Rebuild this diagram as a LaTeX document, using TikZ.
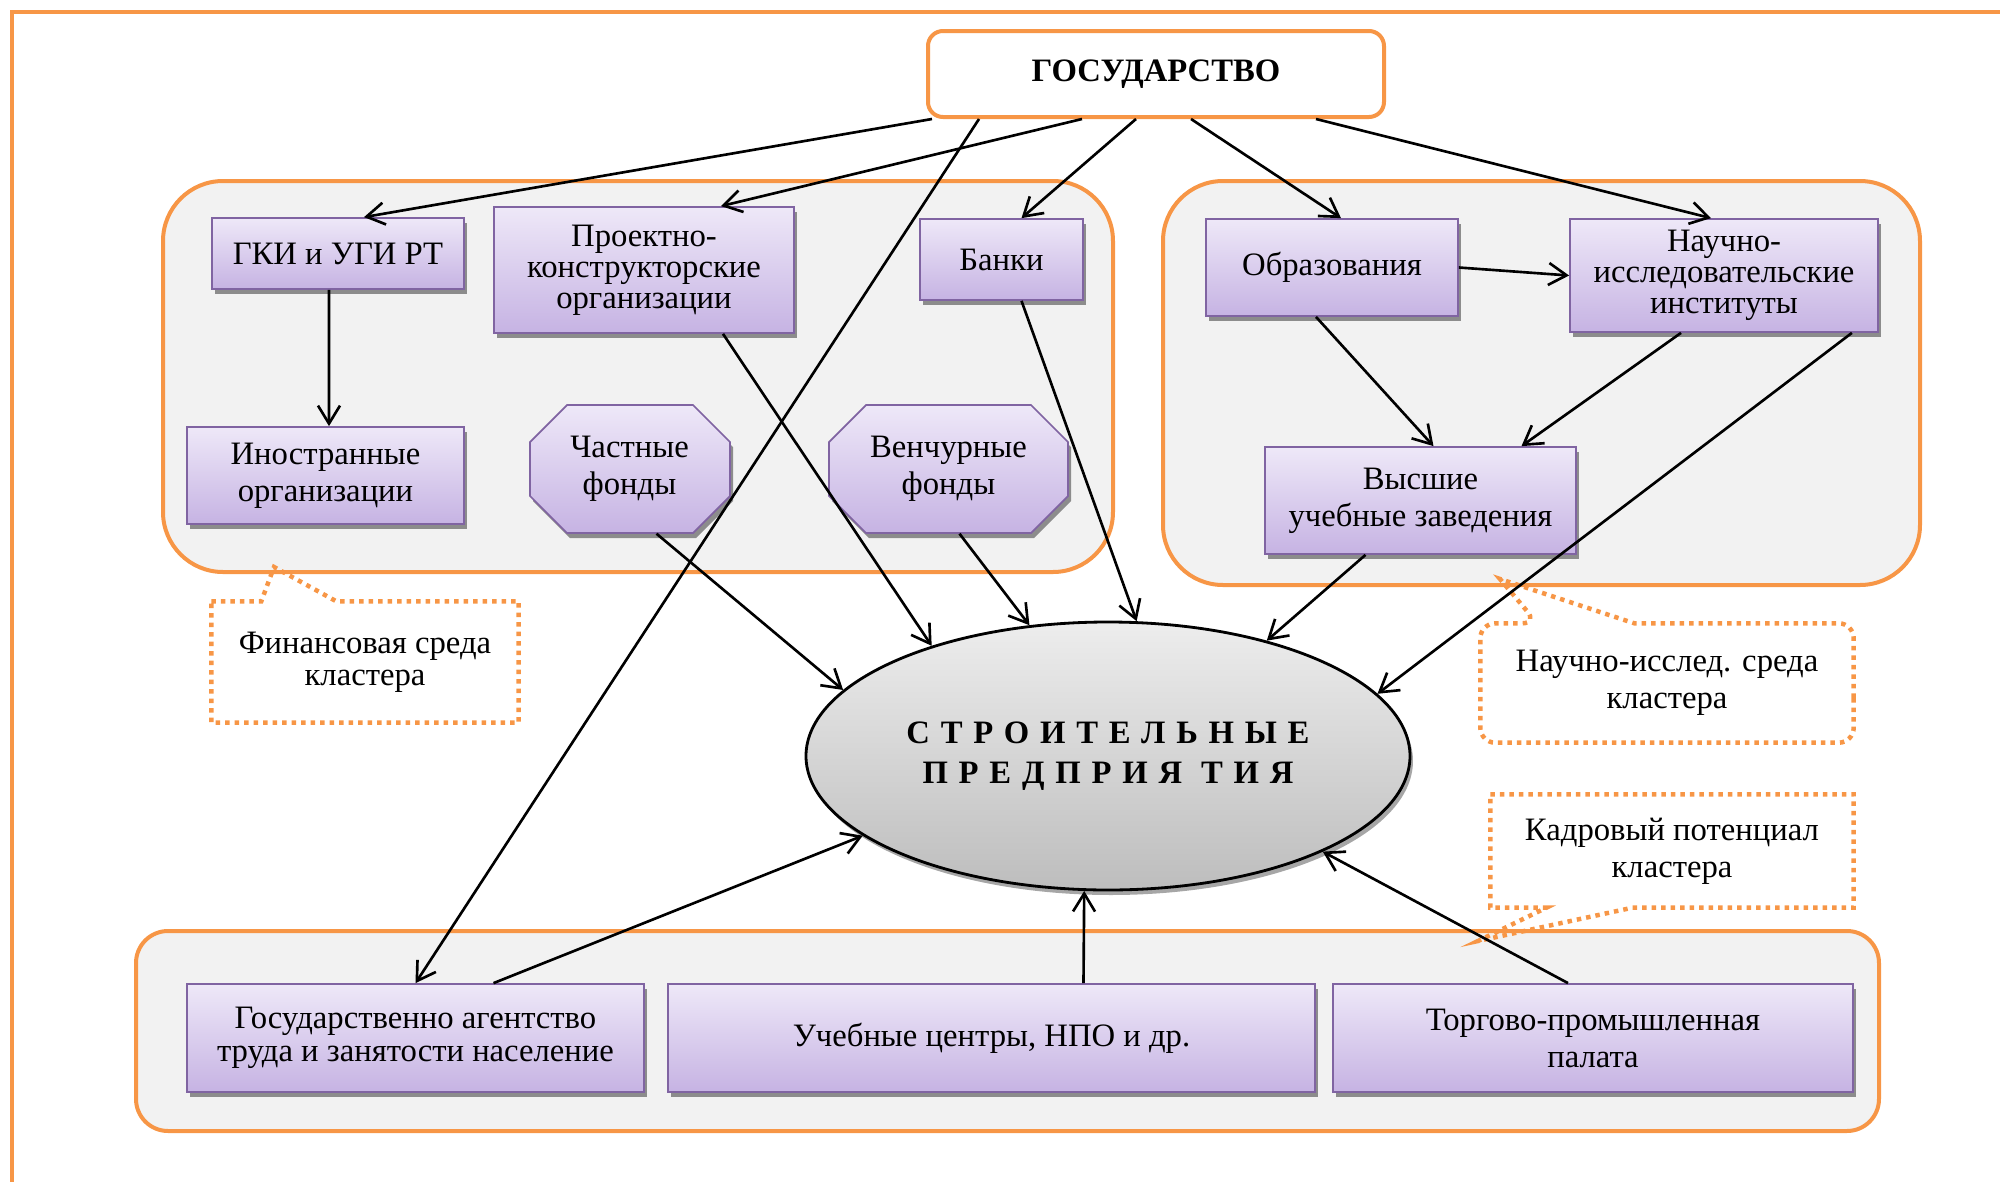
\documentclass[tikz,border=0pt]{standalone}
\usepackage{fontspec}
\setmainfont{Liberation Serif}
\usetikzlibrary{shapes.geometric,shadows,calc,arrows.meta}

\definecolor{clorange}{HTML}{F79646}
\definecolor{clgroup}{HTML}{F2F2F2}
\definecolor{cltop}{HTML}{EEE8F8}
\definecolor{clbot}{HTML}{C6B3E3}
\definecolor{clline}{HTML}{8064A2}
\definecolor{elltop}{HTML}{EDEDED}
\definecolor{ellbot}{HTML}{BDBDBD}

\tikzset{
	txt/.style={font=\fontsize{9.3}{10.5}\selectfont, align=center},
	group/.style={draw=clorange, line width=0.4mm, fill=clgroup, rounded corners=6mm},
	statebox/.style={txt, draw=clorange, line width=0.4mm, fill=white, rounded corners=1.5mm,
		font=\fontsize{9.3}{10.5}\selectfont\bfseries},
	orgfill/.style={draw=clline, line width=0.5pt, top color=cltop, bottom color=clbot,
		drop shadow={shadow xshift=0.3mm, shadow yshift=-0.5mm, fill=black!45, opacity=1}},
	orgbox/.style={txt, orgfill, inner sep=1pt},
	entbox/.style={ellipse, draw=black, line width=0.8pt, top color=elltop, bottom color=ellbot, inner sep=0pt,
		align=center, font=\fontsize{9.3}{11.4}\selectfont\bfseries\addfontfeature{LetterSpace=33},
		drop shadow={shadow xshift=0.3mm, shadow yshift=-0.5mm, fill=black!35, opacity=1}},
	callout/.style={draw=clorange, line width=0.45mm, dash pattern=on 0.45mm off 0.5mm},
	link/.style={->, line width=0.75pt},
	>={Straight Barb[length=1.8mm, width=2.2mm]},
}

\begin{document}
\begin{tikzpicture}[x=0.1mm, y=-0.1mm]
	\useasboundingbox (0,0) rectangle (2000,1182);

	% frame
	\draw[draw=clorange, line width=0.4mm] (12,1182) -- (12,12) -- (2000,12);

	% environments
	\draw[group] (163,181) rectangle (1113,572);
	\draw[group] (1163,181) rectangle (1920,585);
	\draw[group, rounded corners=3.2mm] (136,931) rectangle (1879,1131);

	\node[statebox, minimum width=45.6mm, minimum height=8.6mm] (gos) at (1156,74) {ГОСУДАРСТВО};

	% financial
	\node[orgbox, minimum width=25.2mm, minimum height=7.1mm] (gki) at (338,253.5) {ГКИ и УГИ РТ};
	\node[orgbox, minimum width=27.7mm, minimum height=9.7mm] (inostr) at (325.5,475.5) {Иностранные\\организации};
	\node[orgbox, minimum width=30mm, minimum height=12.6mm, font=\fontsize{9.3}{8.8}\selectfont] (proekt) at (644,270) {Проектно-\\конструкторские\\организации};
	\node[orgbox, minimum width=16.3mm, minimum height=8.1mm] (banki) at (1001.5,259.5) {Банки};

	% funds
	\path[orgfill] (567,405) -- ++(126,0) -- ++(37,37) -- ++(0,54) -- ++(-37,37) -- ++(-126,0) -- ++(-37,-37) -- ++(0,-54) -- cycle;
	\path[orgfill] (866,405) -- ++(165,0) -- ++(37,37) -- ++(0,54) -- ++(-37,37) -- ++(-165,0) -- ++(-37,-37) -- ++(0,-54) -- cycle;
	\node[txt, minimum width=20.1mm, minimum height=12.8mm] (chast) at (629.5,469) {Частные\\фонды};
	\node[txt, minimum width=23.9mm, minimum height=12.8mm] (vench) at (948.5,469) {Венчурные\\фонды};

	% research
	\node[orgbox, minimum width=25.2mm, minimum height=9.7mm] (obraz) at (1332,267.5) {Образования};
	\node[orgbox, minimum width=30.8mm, minimum height=11.3mm, font=\fontsize{9.3}{8.9}\selectfont] (nii) at (1724,275.5) {Научно-\\исследовательские\\институты};
	\node[orgbox, minimum width=31.1mm, minimum height=10.7mm] (vuz) at (1420.5,500.5) {Высшие\\учебные заведения};

	\node[entbox, minimum width=60.4mm, minimum height=26.8mm] (ent) at (1108,756) {СТРОИТЕЛЬНЫЕ\\ПРЕДПРИЯ ТИЯ};

	% staff
	\node[orgbox, minimum width=45.7mm, minimum height=10.8mm, font=\fontsize{9.3}{9.4}\selectfont] (agent) at (415.5,1038) {Государственно агентство\\труда и занятости население};
	\node[orgbox, minimum width=64.7mm, minimum height=10.8mm] (ucheb) at (991.5,1038) {Учебные центры, НПО и др.};
	\node[orgbox, minimum width=52mm, minimum height=10.8mm] (torg) at (1593,1038) {Торгово-промышленная\\палата};

	% callouts
	\node[txt, minimum width=30.6mm, minimum height=12mm, font=\fontsize{9.3}{9.1}\selectfont] (fin) at (365,662) {Финансовая среда\\кластера};
	\node[txt, minimum width=37.2mm, minimum height=11.8mm] (nauch) at (1667,683) {Научно-исслед. среда\\кластера};
	\node[txt, minimum width=36.2mm, minimum height=11.2mm] (kadr) at (1672,851) {Кадровый потенциал\\кластера};
	\coordinate (finpt) at (274,567);
	\coordinate (nauchpt) at (1500,579);
	\coordinate (kadrpt) at (1478,941);

	\draw[callout] (fin.north west) -- ($(fin.north west)+(50,0)$) -- (finpt) -- ($(fin.north west)+(125,0)$)
		-- (fin.north east) -- (fin.south east) -- (fin.south west) -- cycle;
	\draw[callout, rounded corners=1.5mm] (nauch.east) -- (nauch.south east) -- (nauch.south west) -- (nauch.north west)
		-- ($(nauch.north west)+(57,0)$) [sharp corners] -- (nauchpt) -- ($(nauch.north west)+(154,0)$)
		[rounded corners=1.5mm] -- (nauch.north east) -- cycle;
	\draw[callout] (kadr.north west) -- (kadr.north east) -- (kadr.south east) -- ($(kadr.south west)+(142,0)$)
		-- (kadrpt) -- ($(kadr.south west)+(56,0)$) -- (kadr.south west) -- cycle;

	% links from the state
	\draw[link] ($(gos.south west)+(6,0)$) -- ($(gki.north)+(26,0)$);
	\draw[link] ($(gos.south west)+(156,0)$) -- ($(proekt.north)+(77,0)$);
	\draw[link] ($(gos.south west)+(53,0)$) -- (agent.north);
	\draw[link] ($(gos.south)+(-20,0)$) -- ($(banki.north)+(20,0)$);
	\draw[link] ($(gos.south)+(35,0)$) -- ($(obraz.north)+(9,0)$);
	\draw[link] ($(gos.south)+(160,0)$) -- ($(nii.north)+(-13,0)$);

	% inside the environments
	\draw[link] ($(gki.south)+(-9,0)$) -- ($(inostr.north)+(3.5,0)$);
	\draw[link] (obraz.east) -- (nii.west);
	\draw[link] ($(obraz.south)+(-16,0)$) -- ($(vuz.north)+(13,0)$);
	\draw[link] ($(nii.south)+(-43,0)$) -- ($(vuz.north)+(101,0)$);

	% to the enterprises
	\draw[link] ($(nii.south east)+(-27,0)$) -- (ent.13);
	\draw[link] ($(vuz.south)+(-55,0)$) -- (ent.36);
	\draw[link] ($(banki.south)+(20,0)$) -- (ent.78);
	\draw[link] ($(proekt.south)+(79,0)$) -- (ent.148);
	\draw[link] ($(vench.south)+(11,0)$) -- (ent.121);
	\draw[link] ($(chast.south)+(27,0)$) -- (ent.166);
	\draw[link] ($(agent.north)+(78,0)$) -- (ent.198);
	\draw[link] ($(ucheb.north)+(92,0)$) -- (ent.260);
	\draw[link] ($(torg.north)+(-25,0)$) -- (ent.336);

\end{tikzpicture}
\end{document}
